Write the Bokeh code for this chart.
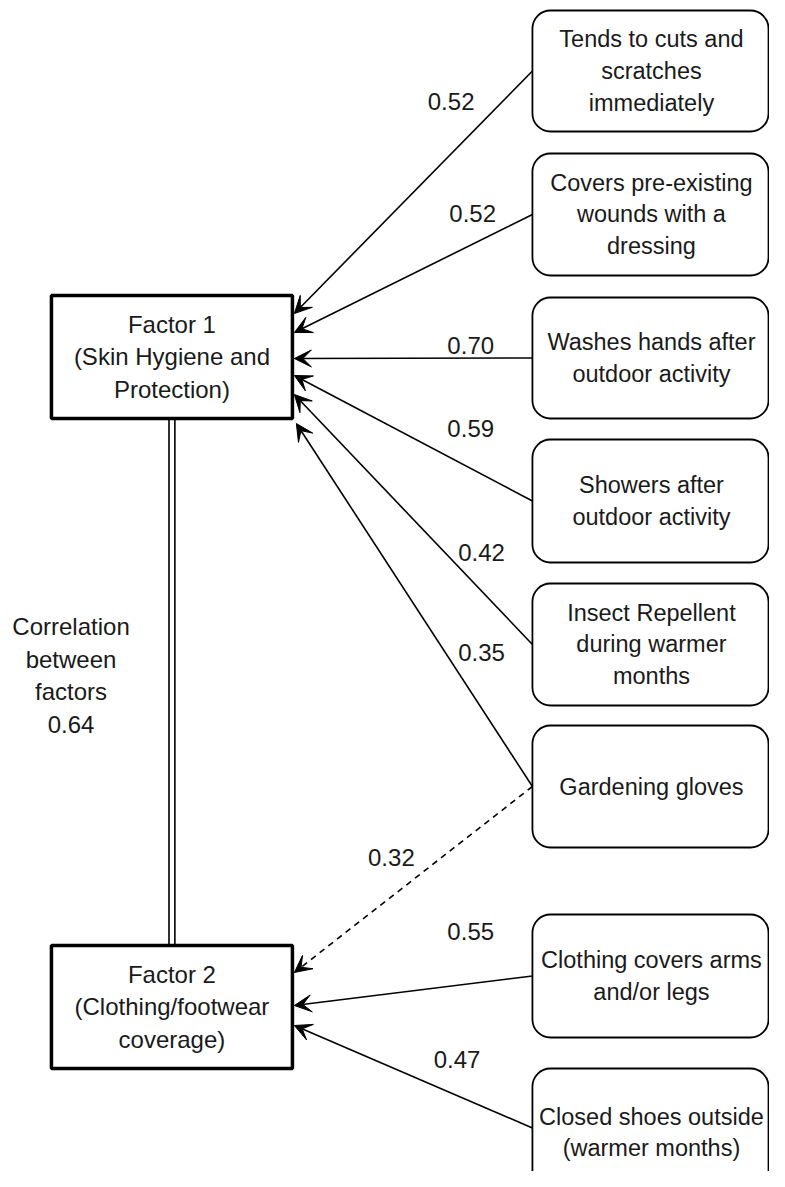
from bokeh.plotting import figure
from bokeh.models import Range1d, Arrow, VeeHead
from bokeh.core.properties import value
from bokeh.embed import file_html
from bokeh.resources import INLINE

# ---------------- data ----------------
factor_names = ["Factor 1\n(Skin Hygiene and\nProtection)",
                "Factor 2\n(Clothing/footwear\ncoverage)"]
item_names = ["Tends to cuts and\nscratches\nimmediately",
              "Covers pre-existing\nwounds with a\ndressing",
              "Washes hands after\noutdoor activity",
              "Showers after\noutdoor activity",
              "Insect Repellent\nduring warmer\nmonths",
              "Gardening gloves",
              "Clothing covers arms\nand/or legs",
              "Closed shoes outside\n(warmer months)"]
# paths: item index -> factor index, loading, cross-loading flag
path_item = [0, 1, 2, 3, 4, 5, 5, 6, 7]
path_factor = [0, 0, 0, 0, 0, 0, 1, 1, 1]
path_loading = [0.52, 0.52, 0.70, 0.59, 0.42, 0.35, 0.32, 0.55, 0.47]
path_cross = [False, False, False, False, False, False, True, False, False]
factor_correlation = 0.64

# ---------------- layout (reference pixel coordinates) ----------------
FONT = value("Liberation Sans")
TXT = "#1a1a1a"
factor_left, factor_right = 52, 298
factor_top = [295, 945]
factor_bottom = [418, 1068]
item_left, item_right = 543, 784
item_top = [10, 153, 297, 439, 583, 725, 914, 1068]
item_bottom = [131, 275, 418, 562, 705, 847, 1037, 1197]
item_mid_y = [70.5, 214, 357.5, 500.5, 644, 786, 975.5, 1127.5]
item_text_y = [70.5, 214, 357.5, 500.5, 644, 786, 975.5, 1132]
tip_x = [300, 300, 300, 300, 300, 302, 300, 300, 300]
tip_y = [313, 332, 358, 375, 394, 423, 972, 1005, 1025]
label_x = [460, 482, 480, 480, 491, 491, 399, 480, 466]
label_y = [101, 213, 345, 428, 552, 652, 857, 931, 1059]

p = figure(width=769, height=1171, x_range=Range1d(0, 785), y_range=Range1d(1171, 0),
           output_backend="svg", toolbar_location=None, min_border=0)
p.axis.visible = False
p.grid.visible = False
p.outline_line_color = None
p.background_fill_color = "white"
p.border_fill_color = "white"

# correlation double line
cx = (factor_left + factor_right) / 2
p.segment(x0=[cx - 3, cx + 3], x1=[cx - 3, cx + 3],
          y0=[factor_bottom[0]] * 2, y1=[factor_top[1]] * 2,
          line_color="black", line_width=1.6)

# factor boxes
p.quad(left=[factor_left] * 2, right=[factor_right] * 2, top=factor_top, bottom=factor_bottom,
       fill_color="white", line_color="black", line_width=3.5)
p.text(x=[cx] * 2, y=[(t + b) / 2 for t, b in zip(factor_top, factor_bottom)], text=factor_names,
       text_align="center", text_baseline="middle", text_font=FONT, text_font_size="24px",
       text_color=TXT, text_line_height=1.2)

# item boxes
n = len(item_names)
p.quad(left=[item_left] * n, right=[item_right] * n,
       top=item_top, bottom=item_bottom, border_radius=18,
       fill_color="white", line_color="black", line_width=1.8)
p.text(x=[(item_left + item_right) / 2 + 1] * n, y=item_text_y, text=item_names,
       text_align="center", text_baseline="middle", text_font=FONT, text_font_size="23.5px",
       text_color=TXT, text_line_height=1.22)

# arrows
for k in range(len(path_item)):
    i = path_item[k]
    head = VeeHead(size=17, fill_color="black", line_color="black", line_width=1)
    arr = Arrow(end=head, x_start=item_left, y_start=item_mid_y[i], x_end=tip_x[k], y_end=tip_y[k],
                line_color="black", line_width=1.6,
                line_dash="6 5" if path_cross[k] else "solid")
    p.add_layout(arr)

p.text(x=label_x, y=label_y, text=[f"{v:.2f}" for v in path_loading],
       text_align="center", text_baseline="middle", text_font=FONT, text_font_size="24px",
       text_color=TXT)

p.text(x=[72], y=[675], text=[f"Correlation\nbetween\nfactors\n{factor_correlation:.2f}"],
       text_align="center", text_baseline="middle", text_font=FONT, text_font_size="24px",
       text_color=TXT, text_line_height=1.2)

open("out.html", "w").write(file_html(p, INLINE))
